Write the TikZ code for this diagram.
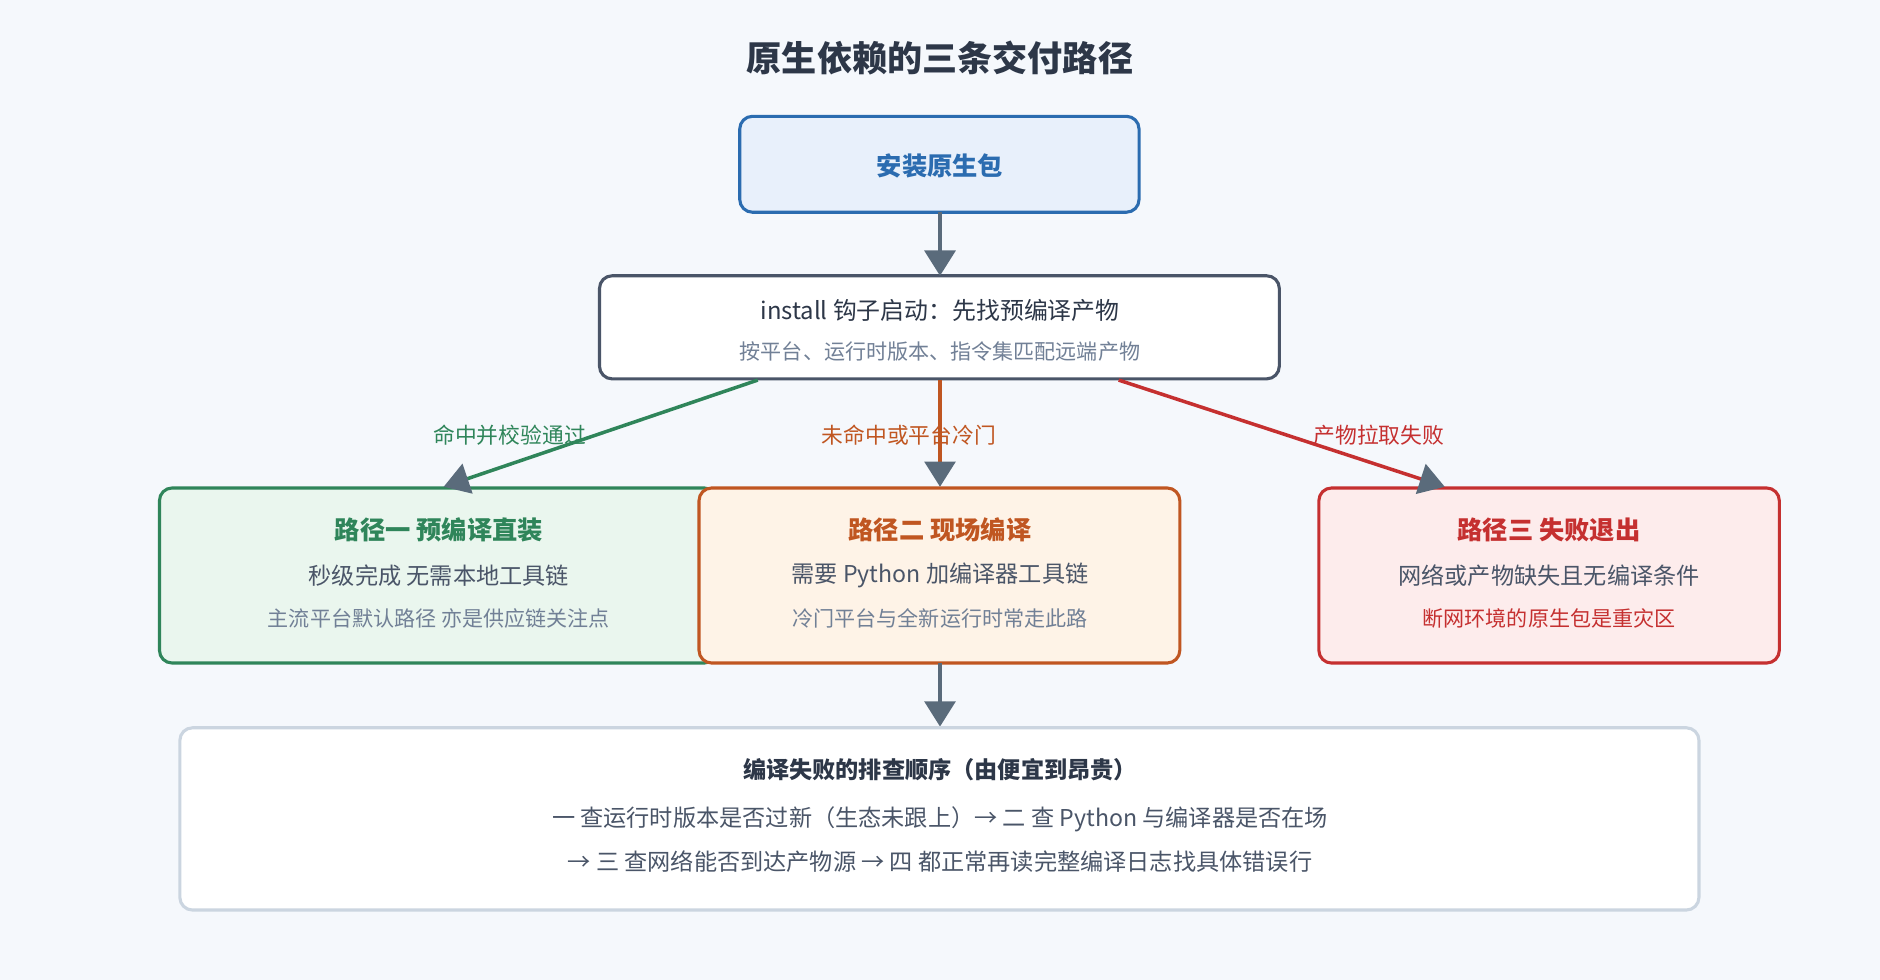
\documentclass[tikz,border=0pt]{standalone}
\usepackage{fontspec}
\setmainfont{Noto Sans CJK SC}
\usetikzlibrary{arrows.meta}
\definecolor{bg}{HTML}{F5F8FC}
\definecolor{dark}{HTML}{2D3748}
\definecolor{mid}{HTML}{4A5568}
\definecolor{muted}{HTML}{718096}
\definecolor{blu}{HTML}{2B6CB0}
\definecolor{blufill}{HTML}{E8F0FB}
\definecolor{grn}{HTML}{2F855A}
\definecolor{grnfill}{HTML}{EAF6EE}
\definecolor{org}{HTML}{C05621}
\definecolor{orgfill}{HTML}{FEF3E7}
\definecolor{red}{HTML}{C53030}
\definecolor{redfill}{HTML}{FDECEC}
\definecolor{arr}{HTML}{5A6B7B}
\definecolor{lbord}{HTML}{CBD5E0}
\begin{document}
\begin{tikzpicture}[x=0.03cm,y=-0.03cm,
  box/.style={draw, line width=2.2pt, rounded corners=9pt},
  t1/.style={font=\fontsize{18}{20}\selectfont\bfseries},
  t2/.style={font=\fontsize{16.5}{19}\selectfont, text=mid},
  t3/.style={font=\fontsize{15}{18}\selectfont, text=muted},
  lab/.style={font=\fontsize{15.5}{18}\selectfont},
  ar/.style={line width=2.5pt, -{Triangle[length=18pt,width=22pt,color=arr]}}]
\fill[bg] (0,0) rectangle (1568,817);
\useasboundingbox (0,0) rectangle (1568,817);
\node[font=\fontsize{25}{28}\selectfont\bfseries, text=dark] (title) at (784,48) {原生依赖的三条交付路径};
\draw[box, blu, fill=blufill] (617,97) rectangle (950,177);
\node[t1, text=blu] (n1) at (784,138) {安装原生包};
\draw[box, mid, fill=white] (500,230) rectangle (1067,316);
\node[font=\fontsize{17}{20}\selectfont, text=dark] (n2) at (784,259) {install 钩子启动：先找预编译产物};
\node[t3] (n2b) at (784,293) {按平台、运行时版本、指令集匹配远端产物};
\coordinate (s1) at (784,177); \coordinate (e1) at (784,230);
\draw[ar, arr] (s1) -- (e1);
% path boxes
\draw[box, grn, fill=grnfill] (133,407) rectangle (598,553);
\draw[box, org, fill=orgfill] (583,407) rectangle (984,553);
\draw[box, red, fill=redfill] (1100,407) rectangle (1484,553);
\node[t1, text=grn] (g1) at (366,442) {路径一 预编译直装};
\node[t2] (g2) at (366,480) {秒级完成 无需本地工具链};
\node[t3] (g3) at (366,516) {主流平台默认路径 亦是供应链关注点};
\node[t1, text=org] (o1) at (784,442) {路径二 现场编译};
\node[t2] (o2) at (784,480) {需要 Python 加编译器工具链};
\node[t3] (o3) at (784,516) {冷门平台与全新运行时常走此路};
\node[t1, text=red] (r1) at (1292,442) {路径三 失败退出};
\node[t2] (r2) at (1292,480) {网络或产物缺失且无编译条件};
\node[t3, text=red] (r3) at (1292,516) {断网环境的原生包是重灾区};
\coordinate (ga) at (632,317); \coordinate (gb) at (370,406);
\coordinate (oa) at (784,317); \coordinate (ob) at (784,406);
\coordinate (ra) at (933,317); \coordinate (rb) at (1205,406);
\draw[ar, grn] (ga) -- (gb);
\draw[ar, org] (oa) -- (ob);
\draw[ar, red] (ra) -- (rb);
\node[lab, text=grn] (lg) at (425,363) {命中并校验通过};
\node[lab, text=org] (lo) at (758,363) {未命中或平台冷门};
\node[lab, text=red] (lr) at (1150,363) {产物拉取失败};
\coordinate (s2) at (784,553); \coordinate (e2) at (784,606);
\draw[ar, arr] (s2) -- (e2);
\draw[box, lbord, fill=white] (150,607) rectangle (1417,759);
\node[font=\fontsize{16.5}{19}\selectfont\bfseries, text=dark] (b1) at (784,642) {编译失败的排查顺序（由便宜到昂贵）};
\node[t2] (b2) at (784,683) {一 查运行时版本是否过新（生态未跟上）→ 二 查 Python 与编译器是否在场};
\node[t2] (b3) at (784,719) {→ 三 查网络能否到达产物源 → 四 都正常再读完整编译日志找具体错误行};
\end{tikzpicture}
\end{document}
